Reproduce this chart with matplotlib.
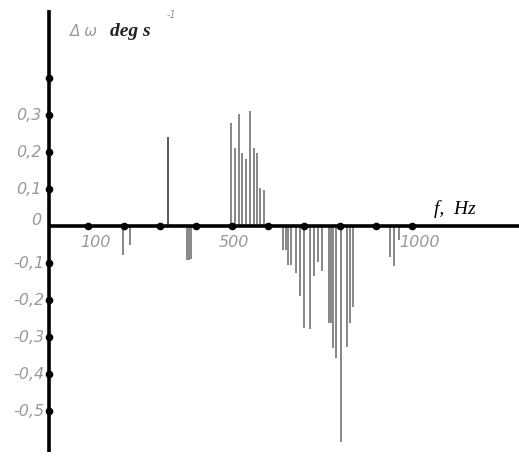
import matplotlib.pyplot as plt
import numpy as np

# frequencies (Hz) and amplitude differences (deg/s)
freq = [196, 217, 323, 376, 381, 386,
        496, 507, 519, 528, 538, 551, 560, 569, 577, 588,
        642, 650, 656, 664, 678, 690, 701, 717, 729, 740, 751,
        768, 775, 781, 789, 803, 818, 829, 837,
        939, 951, 965]
dw = [-0.078, -0.05, 0.241, -0.092, -0.092, -0.09,
      0.278, 0.211, 0.303, 0.197, 0.181, 0.311, 0.211, 0.197, 0.103, 0.097,
      -0.065, -0.065, -0.105, -0.105, -0.128, -0.19, -0.275, -0.279, -0.135, -0.097, -0.122,
      -0.263, -0.263, -0.331, -0.358, -0.583, -0.326, -0.263, -0.218,
      -0.083, -0.108, -0.038]

x_dots = [100, 200, 300, 400, 500, 600, 700, 800, 900, 1000]
x_labels = {100: '100', 500: '500', 1000: '1000'}
y_dots = [0.4, 0.3, 0.2, 0.1, -0.1, -0.2, -0.3, -0.4, -0.5]
y_labels = ['0,3', '0,2', '0,1', '0', '-0,1', '-0,2', '-0,3', '-0,4', '-0,5']
y_label_vals = [0.3, 0.2, 0.1, 0.0, -0.1, -0.2, -0.3, -0.4, -0.5]

tick_font = ['Liberation Sans Narrow', 'DejaVu Sans']

fig = plt.figure(figsize=(5.19, 4.58), dpi=100)
ax = fig.add_axes([0, 0, 1, 1])
ax.set_xlim(-144.4, 1297)
ax.set_ylim(-0.627, 0.611)
ax.axis('off')

bar_colors = ['#5c5c5c' if f == 323 else '#8a8a8a' for f in freq]
ax.bar(freq, dw, width=5.5, color=bar_colors, linewidth=0)

# axes drawn as thick lines
x0 = -8.3
ax.plot([x0, 1297], [0, 0], color='black', lw=2.6, solid_capstyle='butt', zorder=3)
ax.plot([x0, x0], [-0.611, 0.584], color='black', lw=2.6, solid_capstyle='butt', zorder=3)

ax.plot(x_dots, [0] * len(x_dots), 'o', color='black', ms=4.5, zorder=4)
ax.plot([x0] * len(y_dots), y_dots, 'o', color='black', ms=4.5, zorder=4)

lab_color = '#9a9a9a'
for v, s in zip(y_label_vals, y_labels):
    xx = -30 if v >= 0 else -22
    yy = v + 0.015 if v == 0 else v
    ax.text(xx, yy, s, ha='right', va='center', fontsize=11.5, style='italic',
            family=tick_font, color=lab_color)
for f, s in x_labels.items():
    ax.text(f + 20 if f != 500 else f + 5, -0.045, s, ha='center', va='center',
            fontsize=11.5, style='italic', family=tick_font, color=lab_color)

ax.text(50, 0.525, 'Δ ω', ha='left', va='center', fontsize=11, style='italic',
        color=lab_color)
ax.text(160, 0.525, 'deg s', ha='left', va='center', fontsize=14, style='italic',
        fontweight='bold', family='Liberation Serif', color='#222222')
ax.text(318, 0.57, '-1', ha='left', va='center', fontsize=7, style='italic',
        color=lab_color)
ax.text(1062, 0.045, 'f,  Hz', ha='left', va='center', fontsize=14, style='italic',
        family='Liberation Serif', color='black')

fig.savefig('out.png', dpi=100)
